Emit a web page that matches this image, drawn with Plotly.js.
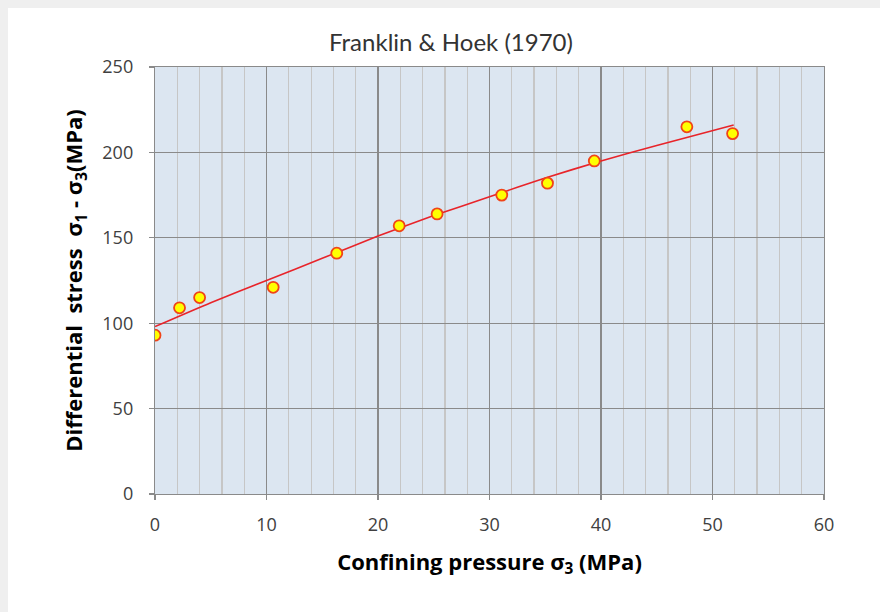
<!DOCTYPE html>
<html>
<head>
<meta charset="utf-8">
<script src="https://cdn.plot.ly/plotly-3.0.1.min.js"></script>
<style>
  html, body { margin: 0; padding: 0; width: 880px; height: 612px; overflow: hidden; background: #efefef; }
  #chart { position: absolute; left: 8px; top: 8px; width: 872px; height: 604px; background: #fff; }
</style>
</head>
<body>
<div id="chart"></div>
<script>
// Measured data points (confining pressure σ3, differential stress σ1-σ3), MPa
const sigma3 = [0, 2.2, 4.0, 10.6, 16.3, 21.9, 25.3, 31.1, 35.2, 39.4, 47.7, 51.8];
const diffStress = [93, 109, 115, 121, 141, 157, 164, 175, 182, 195, 215, 211];

// Trend line
const fitX = [0, 5, 10, 15, 20, 25, 30, 35, 40, 45, 51.9];
const fitY = [98, 112, 125, 138, 151, 163, 174, 185, 195, 204, 216];

const xTicks = [0, 10, 20, 30, 40, 50, 60];
const yTicks = [0, 50, 100, 150, 200, 250];

const traces = [
  {
    x: fitX, y: fitY, type: 'scatter', mode: 'lines',
    line: { color: '#e8242a', width: 1.6, shape: 'spline', smoothing: 0.6 },
    hoverinfo: 'skip', showlegend: false
  },
  {
    x: sigma3, y: diffStress, type: 'scatter', mode: 'markers',
    marker: { size: 11, color: '#ffff00', line: { color: '#f04418', width: 1.8 } },
    showlegend: false
  }
];

const tickFont = { family: 'Open Sans, DejaVu Sans, sans-serif', size: 18, color: '#404040' };

const layout = {
  width: 872, height: 604,
  paper_bgcolor: '#ffffff',
  plot_bgcolor: '#dce6f1',
  margin: { l: 147, r: 56, t: 59, b: 118 },
  title: {
    text: 'Franklin &amp; Hoek (1970)',
    font: { family: 'Lato, Open Sans, sans-serif', size: 24, color: '#333333' },
    x: 0.508, xref: 'container', xanchor: 'center',
    y: 0.943, yref: 'container', yanchor: 'middle'
  },
  xaxis: {
    range: [0, 60], tickvals: xTicks, ticktext: xTicks.map(String),
    showgrid: true, gridcolor: '#8a8a8a', gridwidth: 1.2,
    minor: { dtick: 2, showgrid: true, gridcolor: '#c6c6c6', gridwidth: 1.2, ticks: '' },
    showline: true, linecolor: '#8a8a8a', linewidth: 1.2, mirror: true,
    ticks: 'outside', ticklen: 5, tickcolor: '#8a8a8a', tickwidth: 1.2,
    tickfont: tickFont, zeroline: false, ticklabelstandoff: 9,
    title: {
      text: '<b>Confining pressure σ<sub>3</sub> (MPa)</b>',
      font: { family: 'Open Sans, sans-serif', size: 22, color: '#000000' },
      standoff: 19
    }
  },
  yaxis: {
    range: [0, 250], tickvals: yTicks, ticktext: yTicks.map(String),
    showgrid: true, gridcolor: '#8a8a8a', gridwidth: 1.2,
    showline: true, linecolor: '#8a8a8a', linewidth: 1.2, mirror: true,
    ticks: 'outside', ticklen: 5, tickcolor: '#8a8a8a', tickwidth: 1.2,
    tickfont: tickFont, zeroline: false, ticklabelstandoff: 12,
    title: {
      text: '<b>Differential&nbsp; stress&nbsp; σ<sub>1</sub> - σ<sub>3</sub>(MPa)</b>',
      font: { family: 'Open Sans, sans-serif', size: 22, color: '#000000' },
      standoff: 13
    }
  }
};

Plotly.newPlot('chart', traces, layout, { displayModeBar: false, staticPlot: true });
</script>
</body>
</html>
